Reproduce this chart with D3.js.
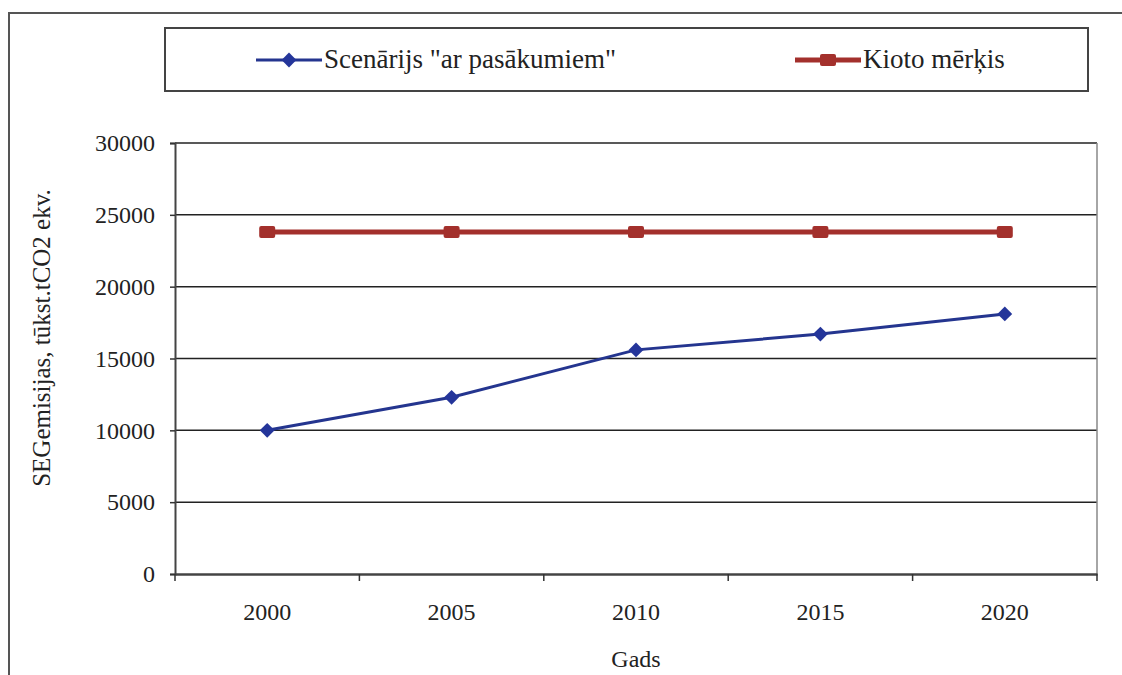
<!DOCTYPE html>
<html lang="lv">
<head>
<meta charset="UTF-8">
<title>SEG emisijas</title>
<script src="https://d3js.org/d3.v7.min.js"></script>
<style>
    body { margin: 0; background: #fff; }
    svg { display: block; }
</style>
</head>
<body>
<svg id="chart"></svg>
<script>
    // data
    const years = ["2000", "2005", "2010", "2015", "2020"];
    const scenario = [10000, 12300, 15600, 16700, 18100];
    const kyoto = [23800, 23800, 23800, 23800, 23800];
    const yTicks = [0, 5000, 10000, 15000, 20000, 25000, 30000];
    const seriesNames = ['Scenārijs "ar pasākumiem"', "Kioto mērķis"];

    const FONT = "'Liberation Serif', 'Times New Roman', serif";
    const W = 1122, H = 675;
    const margin = { top: 143, right: 25, bottom: 101, left: 175 };
    const width = W - margin.left - margin.right;
    const height = H - margin.top - margin.bottom;

    const svg = d3.select("#chart").attr("width", W).attr("height", H);

    // outer frame (only left and top edges are visible)
    svg.append("path")
        .attr("d", `M9,${H + 5}V13H${W + 5}`)
        .attr("fill", "none")
        .attr("stroke", "#555")
        .attr("stroke-width", 2);

    const g = svg.append("g").attr("transform", `translate(${margin.left},${margin.top})`);

    const x = d3.scaleBand().domain(years).range([0, width]);
    const y = d3.scaleLinear().domain([0, 30000]).range([height, 0]);

    // grid lines
    g.selectAll(".grid")
        .data(yTicks.filter(d => d > 0))
        .enter().append("line")
        .attr("x1", 0).attr("x2", width)
        .attr("y1", d => y(d)).attr("y2", d => y(d))
        .attr("stroke", "#222")
        .attr("stroke-width", 1.5);

    // right border of plot area
    g.append("line")
        .attr("x1", width).attr("x2", width)
        .attr("y1", 0).attr("y2", height)
        .attr("stroke", "#888")
        .attr("stroke-width", 1.5);

    // y axis
    const yAxis = g.append("g")
        .call(d3.axisLeft(y).tickValues(yTicks).tickSize(5).tickPadding(15).tickFormat(d3.format("d")));
    yAxis.attr("font-family", FONT).attr("font-size", 24);
    yAxis.select(".domain").attr("stroke", "#444").attr("stroke-width", 2);
    yAxis.selectAll(".tick line").attr("stroke", "#333").attr("stroke-width", 1.5);
    yAxis.selectAll("text").attr("fill", "#222");

    // x axis with ticks between categories
    const xAxis = g.append("g")
        .attr("transform", `translate(0,${height})`)
        .call(d3.axisBottom(x).tickSize(0).tickPadding(29));
    xAxis.attr("font-family", FONT).attr("font-size", 24);
    xAxis.select(".domain").attr("stroke", "#444").attr("stroke-width", 2.5);
    xAxis.selectAll("text").attr("fill", "#222");

    const bounds = years.map(d => x(d)).concat([width]);
    g.selectAll(".xtick")
        .data(bounds)
        .enter().append("line")
        .attr("x1", d => d).attr("x2", d => d)
        .attr("y1", height).attr("y2", height + 7)
        .attr("stroke", "#333")
        .attr("stroke-width", 1.5);

    // axis titles
    g.append("text")
        .attr("x", width / 2)
        .attr("y", height + 93)
        .attr("text-anchor", "middle")
        .attr("font-family", FONT)
        .attr("font-size", 24)
        .attr("fill", "#222")
        .text("Gads");

    g.append("text")
        .attr("transform", `translate(${-margin.left + 50},195) rotate(-90)`)
        .attr("text-anchor", "middle")
        .attr("font-family", FONT)
        .attr("font-size", 25)
        .attr("fill", "#222")
        .text("SEGemisijas, tūkst.tCO2 ekv.");

    const cx = d => x(d) + x.bandwidth() / 2;
    const line = d3.line().x((d, i) => cx(years[i])).y(d => y(d));

    // Kyoto target
    g.append("path")
        .datum(kyoto)
        .attr("d", line)
        .attr("fill", "none")
        .attr("stroke", "#a3302c")
        .attr("stroke-width", 5);
    g.selectAll(".sq")
        .data(kyoto)
        .enter().append("rect")
        .attr("x", (d, i) => cx(years[i]) - 8)
        .attr("y", d => y(d) - 6)
        .attr("width", 16).attr("height", 12)
        .attr("rx", 2)
        .attr("fill", "#a3302c");

    // scenario
    g.append("path")
        .datum(scenario)
        .attr("d", line)
        .attr("fill", "none")
        .attr("stroke", "#24358f")
        .attr("stroke-width", 3);
    const diamond = d3.symbol().type(d3.symbolDiamond2).size(140);
    g.selectAll(".dm")
        .data(scenario)
        .enter().append("path")
        .attr("d", diamond)
        .attr("transform", (d, i) => `translate(${cx(years[i])},${y(d)})`)
        .attr("fill", "#24359a");

    // legend
    const legend = svg.append("g");
    legend.append("rect")
        .attr("x", 165).attr("y", 28)
        .attr("width", 923).attr("height", 63)
        .attr("fill", "none")
        .attr("stroke", "#444")
        .attr("stroke-width", 2);

    const items = [
        { name: seriesNames[0], color: "#24358f", x0: 256, sw: 3, mark: "diamond" },
        { name: seriesNames[1], color: "#a3302c", x0: 795, sw: 5, mark: "square" }
    ];
    items.forEach(it => {
        legend.append("line")
            .attr("x1", it.x0).attr("x2", it.x0 + 66)
            .attr("y1", 60).attr("y2", 60)
            .attr("stroke", it.color)
            .attr("stroke-width", it.sw);
        if (it.mark === "diamond") {
            legend.append("path")
                .attr("d", diamond)
                .attr("transform", `translate(${it.x0 + 33},60)`)
                .attr("fill", "#24359a");
        } else {
            legend.append("rect")
                .attr("x", it.x0 + 25).attr("y", 54)
                .attr("width", 16).attr("height", 12)
                .attr("rx", 2)
                .attr("fill", it.color);
        }
        legend.append("text")
            .attr("x", it.x0 + 68)
            .attr("y", 68)
            .attr("font-family", FONT)
            .attr("font-size", 27)
            .attr("fill", "#222")
            .text(it.name);
    });
</script>
</body>
</html>
